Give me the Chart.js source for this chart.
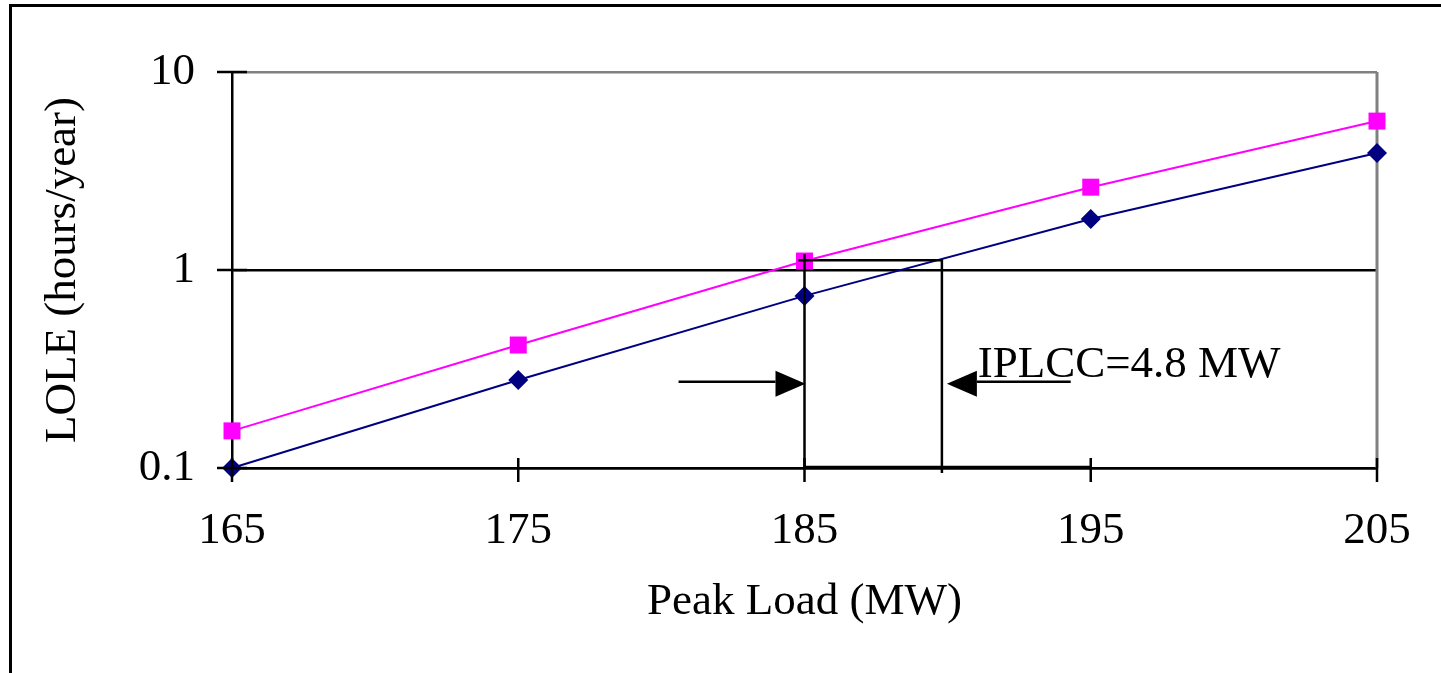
<!DOCTYPE html>
<html>
<head>
<meta charset="utf-8">
<script src="https://cdn.jsdelivr.net/npm/chart.js@4.4.1/dist/chart.umd.min.js"></script>
<style>
  html, body { margin: 0; padding: 0; background: #fff; }
  #wrap { width: 1441px; height: 673px; }
</style>
</head>
<body>
<div id="wrap"><canvas id="lole" width="1441" height="673"></canvas></div>
<script>
// data
const peakLoad = [165, 175, 185, 195, 205];
const loleBase = [0.100, 0.278, 0.74, 1.81, 3.9];
const loleAdded = [0.154, 0.418, 1.11, 2.62, 5.65];
const xTicks = [165, 175, 185, 195, 205];
const yTicks = [0.1, 1, 10];

// IPLCC marker, in data units
const iplccFrom = 185;
const iplccTo = 189.8;
const iplccLevel = 1.12;
const iplccArrowY = 0.266;
const iplccLabel = 'IPLCC=4.8 MW';

const SERIF = "'Liberation Serif', 'Times New Roman', serif";
const FONT = { family: SERIF, size: 45 };

function toPoints(ys) {
  return peakLoad.map((x, i) => ({ x, y: ys[i] }));
}

function arrow(ctx, x0, x1, y) {
  const dir = Math.sign(x1 - x0);
  const head = 30;
  ctx.beginPath();
  ctx.moveTo(x0, y - 2);
  ctx.lineTo(x1 - dir * head, y - 2);
  ctx.stroke();
  ctx.beginPath();
  ctx.moveTo(x1, y);
  ctx.lineTo(x1 - dir * head, y - 13);
  ctx.lineTo(x1 - dir * head, y + 13);
  ctx.closePath();
  ctx.fill();
}

// outer frame, plot border and tick crosses
const framePlugin = {
  id: 'frame',
  beforeDraw(chart) {
    const ctx = chart.ctx;
    ctx.save();
    ctx.strokeStyle = '#000';
    ctx.lineWidth = 3;
    ctx.strokeRect(10.5, 5.5, 1600, 900);
    ctx.restore();
  },
  beforeDatasetsDraw(chart) {
    const { ctx, chartArea: a } = chart;
    ctx.save();
    ctx.strokeStyle = '#808080';
    ctx.lineWidth = 3;
    ctx.beginPath();
    ctx.moveTo(a.right, a.top);
    ctx.lineTo(a.right, a.bottom);
    ctx.stroke();
    ctx.restore();
  },
  afterDraw(chart) {
    const { ctx, chartArea: a, scales } = chart;
    ctx.save();
    ctx.strokeStyle = '#000';
    ctx.lineWidth = 2.5;
    ctx.beginPath();
    xTicks.forEach(v => {
      const px = scales.x.getPixelForValue(v);
      ctx.moveTo(px, a.bottom - 10);
      ctx.lineTo(px, a.bottom + 14);
    });
    yTicks.forEach(v => {
      const py = scales.y.getPixelForValue(v);
      ctx.moveTo(a.left - 15, py);
      ctx.lineTo(a.left + 15, py);
    });
    ctx.stroke();
    ctx.restore();
  }
};

const iplccPlugin = {
  id: 'iplcc',
  afterDatasetsDraw(chart) {
    const { ctx, scales } = chart;
    const x = scales.x, y = scales.y;
    const xa = x.getPixelForValue(iplccFrom);
    const xb = x.getPixelForValue(iplccTo);
    const yTop = y.getPixelForValue(iplccLevel);
    const yBot = y.getPixelForValue(0.1);
    const yArr = y.getPixelForValue(iplccArrowY);
    ctx.save();
    ctx.strokeStyle = '#000';
    ctx.fillStyle = '#000';
    ctx.lineWidth = 2.5;
    ctx.beginPath();
    ctx.moveTo(xa, y.getPixelForValue(1.2));
    ctx.lineTo(xa, yBot);
    ctx.moveTo(xa - 6, yTop);
    ctx.lineTo(xb, yTop);
    ctx.lineTo(xb, yBot + 5);
    ctx.moveTo(xa, yBot - 1);
    ctx.lineTo(x.getPixelForValue(195), yBot - 1);
    ctx.stroke();
    arrow(ctx, x.getPixelForValue(180.6), xa + 1, yArr);
    arrow(ctx, x.getPixelForValue(194.3), xb + 5, yArr);
    ctx.font = `45px ${SERIF}`;
    ctx.textBaseline = 'alphabetic';
    ctx.textAlign = 'left';
    ctx.fillText(iplccLabel, x.getPixelForValue(191.05), yArr - 7);
    ctx.restore();
  }
};

new Chart(document.getElementById('lole'), {
  type: 'line',
  data: {
    datasets: [
      {
        label: 'LOLE',
        data: toPoints(loleBase),
        borderColor: '#000080',
        backgroundColor: '#000080',
        borderWidth: 2,
        pointStyle: 'rectRot',
        pointRadius: 10,
        pointBorderWidth: 0,
        tension: 0,
        clip: false
      },
      {
        label: 'LOLE (added)',
        data: toPoints(loleAdded),
        borderColor: '#ff00ff',
        backgroundColor: '#ff00ff',
        borderWidth: 2,
        pointStyle: 'rect',
        pointRadius: 12,
        pointBorderWidth: 0,
        tension: 0,
        clip: false
      }
    ]
  },
  options: {
    responsive: false,
    animation: false,
    layout: { padding: { left: 0, top: 72, right: 64, bottom: 0 } },
    plugins: {
      legend: { display: false },
      tooltip: { enabled: false }
    },
    scales: {
      x: {
        type: 'linear',
        min: 165,
        max: 205,
        afterBuildTicks: s => { s.ticks = xTicks.map(v => ({ value: v })); },
        afterFit: s => { s.height = 205; s.paddingLeft = 0; s.paddingRight = 0; },
        grid: { display: false, drawTicks: false },
        border: { display: true, color: '#000', width: 2.5 },
        ticks: {
          color: '#000',
          font: FONT,
          padding: 36,
          maxRotation: 0,
          callback: v => String(v)
        },
        title: {
          display: true,
          text: 'Peak Load (MW)',
          color: '#000',
          font: FONT,
          padding: { top: 0, bottom: 44 }
        }
      },
      y: {
        type: 'logarithmic',
        min: 0.1,
        max: 10,
        afterBuildTicks: s => { s.ticks = yTicks.map(v => ({ value: v })); },
        afterFit: s => { s.width = 232; s.paddingTop = 0; s.paddingBottom = 0; },
        grid: {
          drawTicks: false,
          lineWidth: 2.5,
          color: c => (c.tick && c.tick.value === 10 ? '#808080' : '#000')
        },
        border: { display: true, color: '#000', width: 2.5 },
        ticks: {
          color: '#000',
          font: FONT,
          padding: 37,
          callback: v => String(v)
        },
        title: {
          display: true,
          text: 'LOLE (hours/year)',
          color: '#000',
          font: FONT,
          padding: { top: 36, bottom: 0 }
        }
      }
    }
  },
  plugins: [framePlugin, iplccPlugin]
});
</script>
</body>
</html>
